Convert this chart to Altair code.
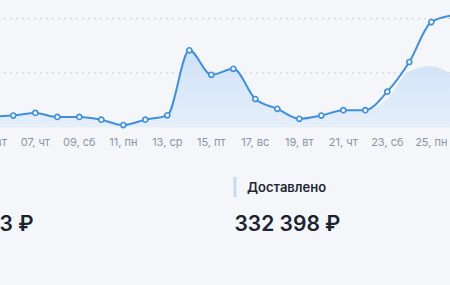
import altair as alt
import pandas as pd

# ---- data (thousand ₽ per day) ----
days = [5, 6, 7, 8, 9, 10, 11, 12, 13, 14, 15, 16, 17, 18, 19, 20, 21, 22, 23, 24, 25, 26]
ordered = [4.0, 4.3, 5.3, 3.8, 3.8, 2.8, 0.8, 2.8, 4.4, 28.3, 19.3, 21.5, 10.4, 6.8,
           3.1, 4.3, 6.3, 6.3, 13.1, 24.0, 38.7, 41.2]
delivered = [4.0, 4.3, 5.3, 3.8, 3.8, 2.8, 0.8, 2.8, 4.4, 28.3, 19.3, 21.5, 10.4, 6.8,
             3.1, 4.3, 6.3, 6.3, 10.4, 20.6, 22.4, 19.0]
tick_days = [5, 7, 9, 11, 13, 15, 17, 19, 21, 23, 25]
tick_labels = ["05, вт", "07, чт", "09, сб", "11, пн", "13, ср", "15, пт",
               "17, вс", "19, вт", "21, чт", "23, сб", "25, пн"]
grid_values = [20, 40]
summary_title = ["Доставлено"]
summary_value = ["332 398 ₽"]
left_value_tail = ["3 ₽"]

BLUE = "#3d8fe3"
FONT = "Inter"

df = pd.DataFrame({"day": days, "ordered": ordered, "delivered": delivered})
ticks = pd.DataFrame({"day": tick_days, "label": tick_labels})
grid = pd.DataFrame({"v": grid_values})

xs = alt.Scale(domain=[5.395, 25.85], nice=False, zero=False)
ys = alt.Scale(domain=[-57.98, 46.8], nice=False, zero=False)
X = alt.X("day:Q", scale=xs, axis=None)

gridlines = alt.Chart(grid).mark_rule(
    color="#c8ced8", strokeDash=[2, 4], strokeWidth=1
).encode(y=alt.Y("v:Q", scale=ys, axis=None))

area = alt.Chart(df).mark_area(
    interpolate="monotone", clip=True,
    color=alt.Gradient(
        gradient="linear",
        stops=[alt.GradientStop(color="#cfe2f8", offset=0),
               alt.GradientStop(color="#e6effa", offset=1)],
        x1=0, x2=0, y1=0, y2=1,
    ),
).encode(x=X, y=alt.Y("delivered:Q", scale=ys, axis=None), y2=alt.datum(0))

line = alt.Chart(df).mark_line(
    interpolate="monotone", clip=True, color=BLUE, strokeWidth=2
).encode(x=X, y=alt.Y("ordered:Q", scale=ys, axis=None))

points = alt.Chart(df).mark_point(
    shape="circle", filled=True, fill="white", stroke=BLUE, strokeWidth=1.6,
    size=26, opacity=1, clip=True,
).encode(x=X, y=alt.Y("ordered:Q", scale=ys, axis=None))

tick_text = alt.Chart(ticks).mark_text(
    font=FONT, fontSize=11, color="#8b95a2", align="center", baseline="middle"
).encode(x=X, y=alt.value(143), text="label:N")

bar = alt.Chart(pd.DataFrame({"t": summary_title})).mark_rule(
    color="#c4dbf4", strokeWidth=3
).encode(x=alt.value(235), y=alt.value(177), y2=alt.value(197))

title_text = alt.Chart(pd.DataFrame({"t": summary_title})).mark_text(
    font=FONT, fontSize=13, fontWeight=600, color="#1e2633",
    align="left", baseline="middle"
).encode(x=alt.value(247), y=alt.value(187.5), text="t:N")

value_text = alt.Chart(pd.DataFrame({"t": summary_value})).mark_text(
    font=FONT, fontSize=21, fontWeight=600, color="#1b2330",
    align="left", baseline="alphabetic"
).encode(x=alt.value(234.5), y=alt.value(231), text="t:N")

left_text = alt.Chart(pd.DataFrame({"t": left_value_tail})).mark_text(
    font=FONT, fontSize=21, fontWeight=600, color="#1b2330",
    align="right", baseline="alphabetic"
).encode(x=alt.value(33.5), y=alt.value(231), text="t:N")

chart = alt.layer(
    gridlines, area, line, points, tick_text, bar, title_text, value_text, left_text
).properties(
    width=450, height=285, padding=0, background="#f4f6fa",
    autosize=alt.AutoSizeParams(type="none"),
).configure_view(stroke=None)

chart.save("out.html", embed_options={"renderer": "svg", "actions": False})
